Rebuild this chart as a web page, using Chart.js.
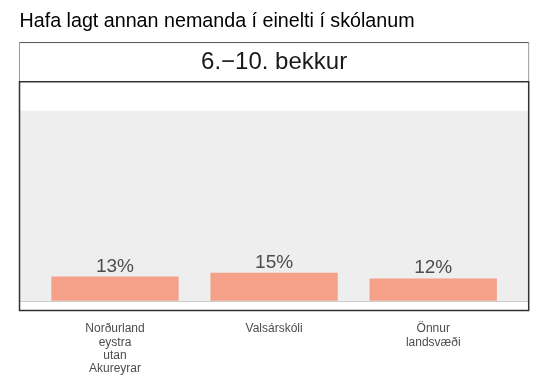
<!DOCTYPE html>
<html>
<head>
<meta charset="utf-8">
<script src="https://cdn.jsdelivr.net/npm/chart.js@4/dist/chart.umd.min.js"></script>
<style>
  html, body { margin: 0; padding: 0; background: #ffffff; }
  #wrap { width: 539px; height: 384px; }
</style>
</head>
<body>
<div id="wrap"><canvas id="c" width="539" height="384"></canvas></div>
<script>
const chartTitle = 'Hafa lagt annan nemanda í einelti í skólanum';
const stripLabel = '6.−10. bekkur';
const categories = [
  ['Norðurland', 'eystra', 'utan', 'Akureyrar'],
  'Valsárskóli',
  ['Önnur', 'landsvæði']
];
const values = [13, 15, 12];
const backgroundMax = 100;

const FONT = "'Liberation Sans', Arial, sans-serif";

const panelPlugin = {
  id: 'panelPlugin',
  beforeDraw(chart) {
    const { ctx, chartArea, scales } = chart;
    ctx.save();
    ctx.fillStyle = '#ffffff';
    ctx.fillRect(0, 0, chart.width, chart.height);
    const yTop = scales.y.getPixelForValue(backgroundMax);
    const yBot = scales.y.getPixelForValue(0);
    ctx.fillStyle = '#eeeeee';
    ctx.fillRect(chartArea.left, yTop, chartArea.right - chartArea.left, yBot - yTop);
    ctx.restore();
  },
  afterDatasetsDraw(chart) {
    const { ctx } = chart;
    const meta = chart.getDatasetMeta(0);
    ctx.save();
    ctx.fillStyle = '#4d4d4d';
    ctx.font = '19px ' + FONT;
    ctx.textAlign = 'center';
    ctx.textBaseline = 'alphabetic';
    meta.data.forEach((bar, i) => {
      ctx.fillText(values[i] + '%', bar.x, bar.y - 5);
    });
    ctx.restore();
  },
  afterDraw(chart) {
    const { ctx, chartArea } = chart;
    const strip = chart.boxes.find(b => b.options && b.options.text === stripLabel);
    ctx.save();
    if (strip) {
      ctx.strokeStyle = '#9a9a9a';
      ctx.lineWidth = 1;
      ctx.beginPath();
      ctx.moveTo(chartArea.left, chartArea.top);
      ctx.lineTo(chartArea.left, strip.top + 0.5);
      ctx.moveTo(chartArea.right, chartArea.top);
      ctx.lineTo(chartArea.right, strip.top + 0.5);
      ctx.stroke();
      ctx.strokeStyle = '#555555';
      ctx.beginPath();
      ctx.moveTo(chartArea.left, strip.top + 0.5);
      ctx.lineTo(chartArea.right, strip.top + 0.5);
      ctx.stroke();
    }
    ctx.strokeStyle = '#333333';
    ctx.lineWidth = 1.5;
    ctx.strokeRect(chartArea.left, chartArea.top, chartArea.right - chartArea.left, chartArea.bottom - chartArea.top);
    ctx.restore();
  }
};

new Chart(document.getElementById('c'), {
  type: 'bar',
  data: {
    datasets: [{
      data: values.map((v, i) => ({ x: i + 1, y: v })),
      backgroundColor: '#f5a088',
      borderWidth: 0,
      barPercentage: 0.8,
      categoryPercentage: 1.0
    }]
  },
  options: {
    responsive: false,
    devicePixelRatio: 1,
    animation: false,
    layout: { padding: { left: 19.5, right: 10.3, top: 0, bottom: 0 } },
    plugins: {
      legend: { display: false },
      tooltip: { enabled: false },
      title: {
        display: true,
        text: chartTitle,
        align: 'start',
        color: '#000000',
        font: { family: FONT, size: 19.7, weight: 'normal', lineHeight: 1.2 },
        padding: { top: 10, bottom: 8.4 }
      },
      subtitle: {
        display: true,
        text: stripLabel,
        align: 'center',
        color: '#1a1a1a',
        font: { family: FONT, size: 24, weight: 'normal', lineHeight: 1.2 },
        padding: { top: 6, bottom: 4.9 }
      }
    },
    scales: {
      x: {
        type: 'linear',
        offset: false,
        min: 0.4,
        max: 3.6,
        afterBuildTicks(scale) { scale.ticks = categories.map((c, i) => ({ value: i + 1 })); },
        afterFit(scale) { scale.height = 73.5; },
        grid: { display: false, drawTicks: false, offset: false },
        border: { display: false },
        ticks: {
          autoSkip: false,
          maxRotation: 0,
          padding: 12,
          color: '#4d4d4d',
          font: { family: FONT, size: 12, lineHeight: 1.1 },
          callback(value) { return categories[value - 1]; }
        }
      },
      y: {
        min: -4.8,
        max: 115.2,
        afterBuildTicks(scale) { scale.ticks = [{ value: 0 }]; },
        afterFit(scale) { scale.width = 0; },
        grid: { display: true, drawTicks: false, color: '#cccccc', lineWidth: 1 },
        border: { display: false },
        ticks: { display: false }
      }
    }
  },
  plugins: [panelPlugin]
});
</script>
</body>
</html>
